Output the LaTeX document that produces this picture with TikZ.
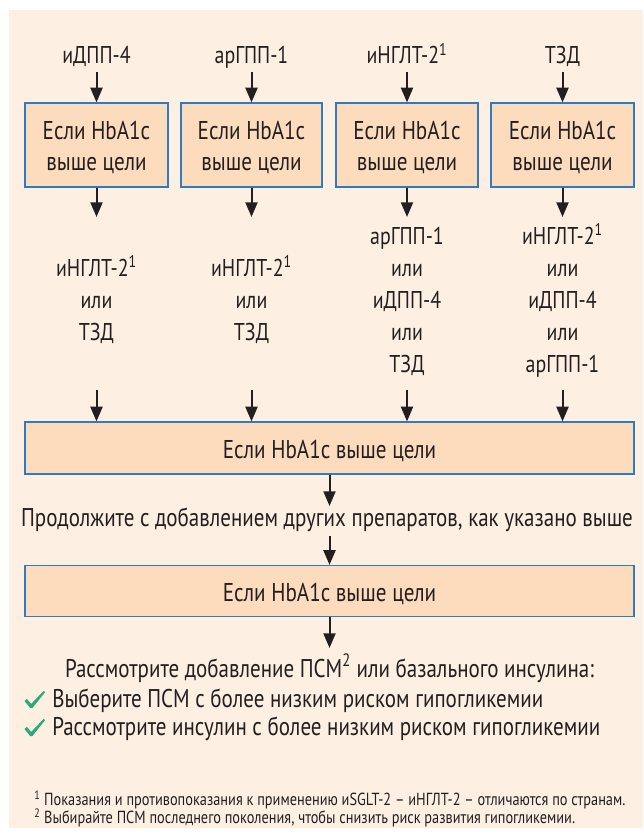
\documentclass[tikz,border=0pt]{standalone}
\usepackage{fontspec}
\setmainfont{PT Sans}[FakeStretch=0.82]
\usetikzlibrary{arrows.meta}
\definecolor{bg}{HTML}{FDF0E3}
\definecolor{boxfill}{HTML}{FDDCBD}
\definecolor{boxline}{HTML}{2F7BBF}
\definecolor{ink}{HTML}{231F20}
\definecolor{chk}{HTML}{2DAA78}
\begin{document}
\begin{tikzpicture}[x=0.75pt,y=-0.75pt,
  lbl/.style={anchor=base,inner sep=0pt,text=ink,font=\fontsize{18.2}{21}\selectfont},
  long/.style={anchor=base,inner sep=0pt,text=ink,font=\fontsize{19.2}{22}\selectfont},
  boxtxt/.style={anchor=base,inner sep=0pt,text=ink,font=\fontsize{19.3}{22}\selectfont},
  foot/.style={anchor=base west,inner sep=0pt,text=ink,text height=9pt,text depth=2.5pt,font=\fontsize{13.1}{15}\selectfont},
  box/.style={draw=boxline,fill=boxfill,line width=0.9pt,inner sep=0pt},
  arr/.style={-{Triangle[length=11pt,width=9pt]},line width=1.5pt,draw=ink},
  chkmark/.pic={\fill[chk] (-0.5,-6.5) -- (1.8,-8.6) -- (6.2,-3.6) -- (18.6,-16.6) -- (20.2,-15.4) -- (7.3,0.6) -- (5.2,0.6) -- cycle;}]
\useasboundingbox (0,0) rectangle (643,834);
\fill[white] (0,0) rectangle (643,834);
\fill[bg] (9,10) rectangle (643,828);

% top labels
\node[lbl] (t1) at (96.5,64) {иДПП-4};
\node[lbl] (t2) at (251.5,64) {арГПП-1};
\node[lbl] (t3) at (407,64) {иНГЛТ-2\textsuperscript{1}};
\node[lbl] (t4) at (562.5,64) {ТЗД};

% small boxes
\node[box,minimum width=107.25pt,minimum height=63pt] (b1) at (96.5,145) {};
\node[box,minimum width=105.75pt,minimum height=63pt] (b2) at (251.5,145) {};
\node[box,minimum width=106.5pt,minimum height=63pt] (b3) at (407,145) {};
\node[box,minimum width=107.25pt,minimum height=63pt] (b4) at (562.5,145) {};
\foreach \i/\x in {1/96.5,2/251.5,3/407,4/562.5}{
  \node[boxtxt] (b\i a) at (\x,140) {Если HbA1c};
  \node[boxtxt] (b\i b) at (\x,171) {выше цели};
  \coordinate (u\i) at (\x,72);
  \coordinate (d\i) at (\x,217);
  \coordinate (s\i) at (\x,390);
}
\foreach \i in {1,2,3,4}{
  \draw[arr] (u\i) -- (b\i.north);
  \draw[arr] (b\i.south) -- (d\i);
}

% columns
\node[lbl] (c1a) at (96.5,276) {иНГЛТ-2\textsuperscript{1}};
\node[lbl] (c1b) at (96.5,308) {или};
\node[lbl] (c1c) at (96.5,340) {ТЗД};
\node[lbl] (c2a) at (251.5,276) {иНГЛТ-2\textsuperscript{1}};
\node[lbl] (c2b) at (251.5,308) {или};
\node[lbl] (c2c) at (251.5,340) {ТЗД};
\node[lbl] (c3a) at (407,244) {арГПП-1};
\node[lbl] (c3b) at (407,276) {или};
\node[lbl] (c3c) at (407,308) {иДПП-4};
\node[lbl] (c3d) at (407,340) {или};
\node[lbl] (c3e) at (407,372) {ТЗД};
\node[lbl] (c4a) at (562.5,244) {иНГЛТ-2\textsuperscript{1}};
\node[lbl] (c4b) at (562.5,276) {или};
\node[lbl] (c4c) at (562.5,308) {иДПП-4};
\node[lbl] (c4d) at (562.5,340) {или};
\node[lbl] (c4e) at (562.5,372) {арГПП-1};

% big box 1
\node[box,minimum width=456.75pt,minimum height=39pt] (B1) at (329.5,448) {};
\node[boxtxt] (B1t) at (329.5,458) {Если HbA1c выше цели};
\foreach \i in {1,2,3,4}{
  \draw[arr] (s\i) -- (s\i |- B1.north);
}
\coordinate (m1) at (329.5,506);
\draw[arr] (B1.south) -- (m1);
\node[long] (P) at (327,526) {Продолжите с добавлением других препаратов, как указано выше};
\coordinate (m2) at (329.5,536);
\node[box,minimum width=456.75pt,minimum height=38.25pt] (B2) at (329.5,591) {};
\node[boxtxt] (B2t) at (329.5,601) {Если HbA1c выше цели};
\draw[arr] (m2) -- (B2.north);
\coordinate (m3) at (329.5,648);
\draw[arr] (B2.south) -- (m3);

\node[long] (R) at (329.5,677) {Рассмотрите добавление ПСМ\textsuperscript{2} или базального инсулина:};
\node[long,anchor=base west] (k1t) at (52,707) {Выберите ПСМ с более низким риском гипогликемии};
\node[long,anchor=base west] (k2t) at (52,735) {Рассмотрите инсулин с более низким риском гипогликемии};
\pic at (25,707.5) {chkmark};
\pic at (25,735.5) {chkmark};

\node[foot] (f1) at (34,805) {\textsuperscript{1} Показания и противопоказания к применению иSGLT-2 – иНГЛТ-2 – отличаются по странам.};
\node[foot] (f2) at (34,823) {\textsuperscript{2} Выбирайте ПСМ последнего поколения, чтобы снизить риск развития гипогликемии.};
\end{tikzpicture}
\end{document}
